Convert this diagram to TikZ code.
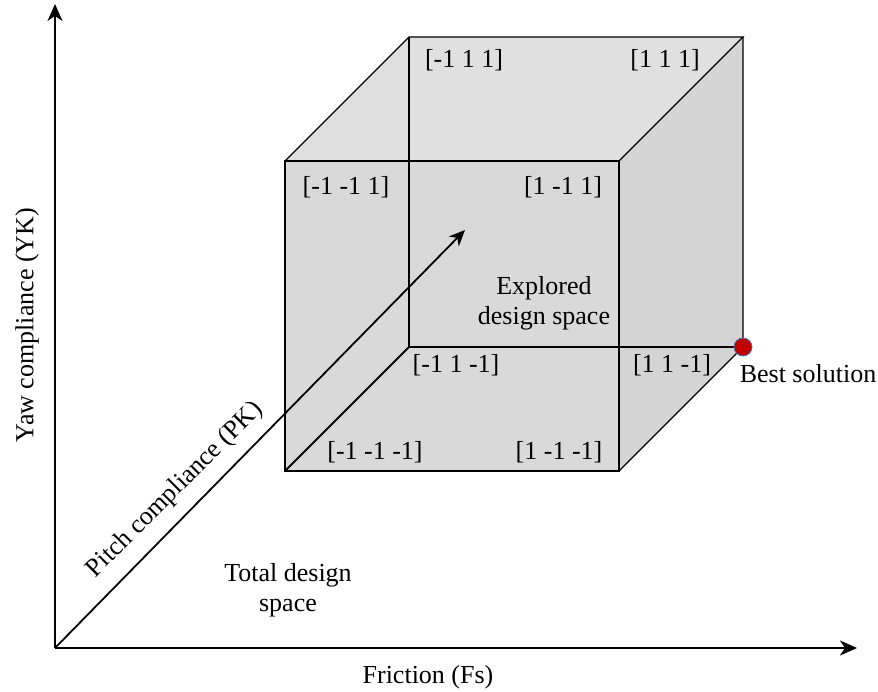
\documentclass[tikz,border=0pt]{standalone}
\usepackage{fontspec}
\setmainfont{Liberation Serif}
\usetikzlibrary{arrows.meta}
\definecolor{frontc}{HTML}{DAD9DA}
\definecolor{topc}{HTML}{E0E0E0}
\definecolor{rightc}{HTML}{D4D4D4}
\definecolor{dotred}{HTML}{C00000}
\definecolor{dotblue}{HTML}{4F6FB0}
\tikzset{
  lbl/.style={font=\fontsize{26}{30}\selectfont, inner sep=0pt},
  frontedge/.style={line width=1.3pt, black},
  backedge/.style={line width=2pt, black},
  axis/.style={line width=2pt, -{Stealth[length=17pt,width=15pt,inset=5pt]}},
}
\begin{document}
\begin{tikzpicture}[x=1pt,y=-1pt]
\useasboundingbox (0,0) rectangle (878,692);
% cube corners
\coordinate (A) at (285,471); % front bottom left
\coordinate (B) at (619,471); % front bottom right
\coordinate (C) at (619,161); % front top right
\coordinate (D) at (285,161); % front top left
\coordinate (E) at (409,347); % back bottom left
\coordinate (F) at (743,347); % back bottom right
\coordinate (G) at (743,37);  % back top right
\coordinate (H) at (409,37);  % back top left
% faces
\fill[frontc] (A) rectangle (C);
\fill[topc] (D) -- (H) -- (G) -- (C) -- cycle;
\fill[rightc] (C) -- (G) -- (F) -- (B) -- cycle;
% back edges
\draw[backedge] (H) -- (E) -- (F);
\draw[backedge] (A) -- (E);
% front edges
\draw[frontedge] (A) rectangle (C);
\draw[frontedge] (D) -- (H) -- (G) -- (C);
\draw[frontedge] (G) -- (F) -- (B);
% axes
\coordinate (O) at (55,648);
\coordinate (Ytip) at (55,4);
\coordinate (Xtip) at (857,648);
\coordinate (Ztip) at (465,230);
\draw[axis] (O) -- (Ytip);
\draw[axis] (O) -- (Xtip);
\draw[line width=1.8pt, -{Stealth[length=16pt,width=14pt,inset=5pt]}] (O) -- (Ztip);
% best solution dot
\node[circle, minimum size=18pt, inner sep=0pt, fill=dotred, draw=dotblue, line width=0.8pt] (best) at (F) {};
% labels
\node[lbl] (l1) at (464,60) {[-1 1 1]};
\node[lbl] (l2) at (665,60) {[1 1 1]};
\node[lbl] (l3) at (346,187) {[-1 -1 1]};
\node[lbl] (l4) at (563,187) {[1 -1 1]};
\node[lbl] (l5) at (456,365) {[-1 1 -1]};
\node[lbl] (l6) at (672,365) {[1 1 -1]};
\node[lbl] (l7) at (375,452) {[-1 -1 -1]};
\node[lbl] (l8) at (559,452) {[1 -1 -1]};
\node[lbl, align=center] (expl) at (544,303) {Explored\\design space};
\node[lbl] (bestl) at (808,374) {Best solution};
\node[lbl, align=center] (total) at (288,590) {Total design\\space};
\node[lbl] (fric) at (428,677) {Friction (Fs)};
\node[lbl, rotate=90] (yaw) at (27,325) {Yaw compliance (YK)};
\node[lbl, rotate=45] (pitch) at (175,490) {Pitch compliance (PK)};
\end{tikzpicture}
\end{document}
